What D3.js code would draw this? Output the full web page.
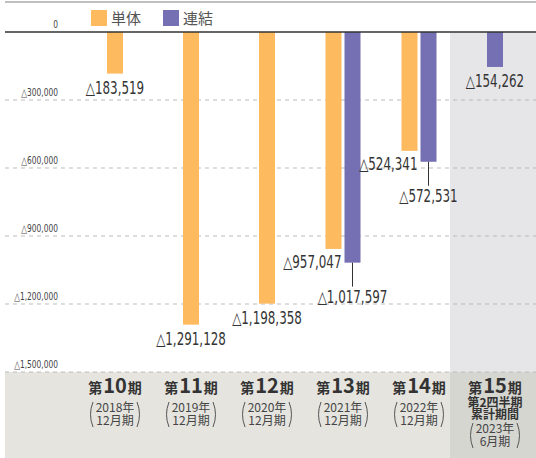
<!DOCTYPE html>
<html>
<head>
<meta charset="utf-8">
<script src="https://cdn.jsdelivr.net/npm/d3@7"></script>
<style>
  body { margin: 0; background: #fff; }
  svg { display: block; }
</style>
</head>
<body>
<svg id="chart" width="536" height="458"></svg>
<script>
// chart data
const periodNums = ["10", "11", "12", "13", "14", "15"];
const yearLabels = ["2018年", "2019年", "2020年", "2021年", "2022年", "2023年"];
const monthLabels = ["12月期", "12月期", "12月期", "12月期", "12月期", "6月期"];
const extraLabels = [[], [], [], [], [], ["第2四半期", "累計期間"]];
const seriesNames = ["単体", "連結"];
const tantai = [-183519, -1291128, -1198358, -957047, -524341, null];
const renketsu = [null, null, null, -1017597, -572531, -154262];
const yTicks = [0, -300000, -600000, -900000, -1200000, -1500000];

const colors = { "単体": "#fdba5f", "連結": "#7570b3" };
const numFont = "'DejaVu Sans', sans-serif";
const jpFont = "'Noto Sans CJK JP', sans-serif";

const width = 536, height = 458;
const svg = d3.select("#chart");

// narrow a text horizontally (condensed look)
function squeeze(sel, k) {
  sel.each(function () {
    const len = this.getComputedTextLength();
    d3.select(this).attr("textLength", len * k).attr("lengthAdjust", "spacingAndGlyphs");
  });
}

const y = d3.scaleLinear().domain([0, -1500000]).range([32, 372]);
const x = d3.scaleBand().domain(periodNums).range([77, 533]);
const x1 = d3.scaleBand().domain(seriesNames).range([-17.5, 17.5]).paddingInner(3 / 19);
const barW = x1.bandwidth();
const cx = d => x(d) + x.bandwidth() / 2;

// backgrounds
const lastCol = periodNums[periodNums.length - 1];
svg.append("rect").attr("x", 5).attr("y", y(-1500000)).attr("width", width - 5).attr("height", height - y(-1500000)).attr("fill", "#e5e4df");
svg.append("rect").attr("x", x(lastCol) - 7).attr("y", y(0)).attr("width", width - x(lastCol) + 7).attr("height", y(-1500000) - y(0)).attr("fill", "#e6e6e9");
svg.append("rect").attr("x", x(lastCol) - 7).attr("y", y(-1500000)).attr("width", width - x(lastCol) + 7).attr("height", height - y(-1500000)).attr("fill", "#d6d6d1");

// top rule
svg.append("line").attr("x1", 5).attr("x2", width).attr("y1", 2).attr("y2", 2).attr("stroke", "#aaa").attr("stroke-width", 1.5);

// grid + tick labels
const grid = svg.append("g");
grid.selectAll("line.grid").data(yTicks.filter(d => d !== 0)).join("line")
  .attr("x1", 5).attr("x2", width)
  .attr("y1", d => y(d)).attr("y2", d => y(d))
  .attr("stroke", "#bbb").attr("stroke-dasharray", "4,4");
grid.selectAll("text").data(yTicks).join("text")
  .attr("x", 58).attr("y", d => y(d) - 4)
  .attr("text-anchor", "end")
  .attr("font-family", numFont).attr("font-size", 11).attr("fill", "#444")
  .text(d => d === 0 ? "0" : "△" + d3.format(",")(-d))
  .call(squeeze, 0.68);

// bars
const bars = [];
periodNums.forEach((p, i) => {
  const both = tantai[i] != null && renketsu[i] != null;
  [[seriesNames[0], tantai[i]], [seriesNames[1], renketsu[i]]].forEach(([s, v]) => {
    if (v == null) return;
    const bx = both ? cx(p) + x1(s) : cx(p) - barW / 2;
    bars.push({ p, s, v, x: bx, both });
  });
});

svg.append("g").selectAll("rect").data(bars).join("rect")
  .attr("x", d => d.x).attr("width", barW)
  .attr("y", y(0)).attr("height", d => y(d.v) - y(0))
  .attr("fill", d => colors[d.s]);

// value labels
const fmt = v => "△" + d3.format(",")(-v);
const labels = svg.append("g").attr("font-family", numFont).attr("font-size", 17).attr("fill", "#333");
bars.forEach(d => {
  if (d.both && d.s === "単体") {
    labels.append("text").attr("x", d.x + barW).attr("y", y(d.v) + 19)
      .attr("text-anchor", "end").text(fmt(d.v));
  } else if (d.both) {
    const bx = d.x + barW / 2;
    labels.append("line").attr("x1", bx).attr("x2", bx)
      .attr("y1", y(d.v)).attr("y2", y(d.v) + 24)
      .attr("stroke", "#333").attr("stroke-width", 1);
    labels.append("text").attr("x", bx).attr("y", y(d.v) + 40)
      .attr("text-anchor", "middle").text(fmt(d.v));
  } else {
    labels.append("text").attr("x", d.x + barW / 2).attr("y", y(d.v) + 20)
      .attr("text-anchor", "middle").text(fmt(d.v));
  }
});
labels.selectAll("text").call(squeeze, 0.7);

// zero line
svg.append("line").attr("x1", 5).attr("x2", width).attr("y1", y(0)).attr("y2", y(0)).attr("stroke", "#333").attr("stroke-width", 1.5);

// legend
const legend = svg.append("g");
seriesNames.forEach((s, i) => {
  const lx = 91 + i * 72;
  legend.append("rect").attr("x", lx).attr("y", 10).attr("width", 16).attr("height", 16).attr("fill", colors[s]);
  legend.append("text").attr("x", lx + 20).attr("y", 24)
    .attr("font-family", jpFont).attr("font-size", 15).attr("fill", "#555").text(s);
});

// category labels
const cats = svg.append("g").attr("fill", "#333").attr("font-family", jpFont);
periodNums.forEach((p, i) => {
  const c = cx(p);
  const t = cats.append("text").attr("x", c).attr("y", 393).attr("text-anchor", "middle");
  t.append("tspan").attr("font-size", 14).attr("font-weight", 700).text("第");
  t.append("tspan").attr("font-size", 20).attr("font-weight", 700).attr("dx", 1).text(p);
  t.append("tspan").attr("font-size", 14).attr("font-weight", 700).attr("dx", 1).text("期");

  let ly = 395;
  extraLabels[i].forEach(e => {
    ly += 12;
    cats.append("text").attr("x", c).attr("y", ly).attr("text-anchor", "middle")
      .attr("font-size", 12).attr("font-weight", 700).text(e);
  });
  const top = extraLabels[i].length ? ly + 4 : ly + 7;
  cats.append("text").attr("x", c).attr("y", top + 10).attr("text-anchor", "middle")
    .attr("font-size", 12).attr("fill", "#444").text(yearLabels[i]);
  cats.append("text").attr("x", c).attr("y", top + 22.5).attr("text-anchor", "middle")
    .attr("font-size", 12).attr("fill", "#444").text(monthLabels[i]);
  // parentheses
  const bottom = top + 25;
  const mid = (top + bottom) / 2;
  [-1, 1].forEach(side => {
    const px = c + side * 22;
    const pth = d3.path();
    pth.moveTo(px, top);
    pth.quadraticCurveTo(px + side * 5, mid, px, bottom);
    cats.append("path").attr("d", pth.toString()).attr("fill", "none")
      .attr("stroke", "#555").attr("stroke-width", 1);
  });
});
</script>
</body>
</html>
